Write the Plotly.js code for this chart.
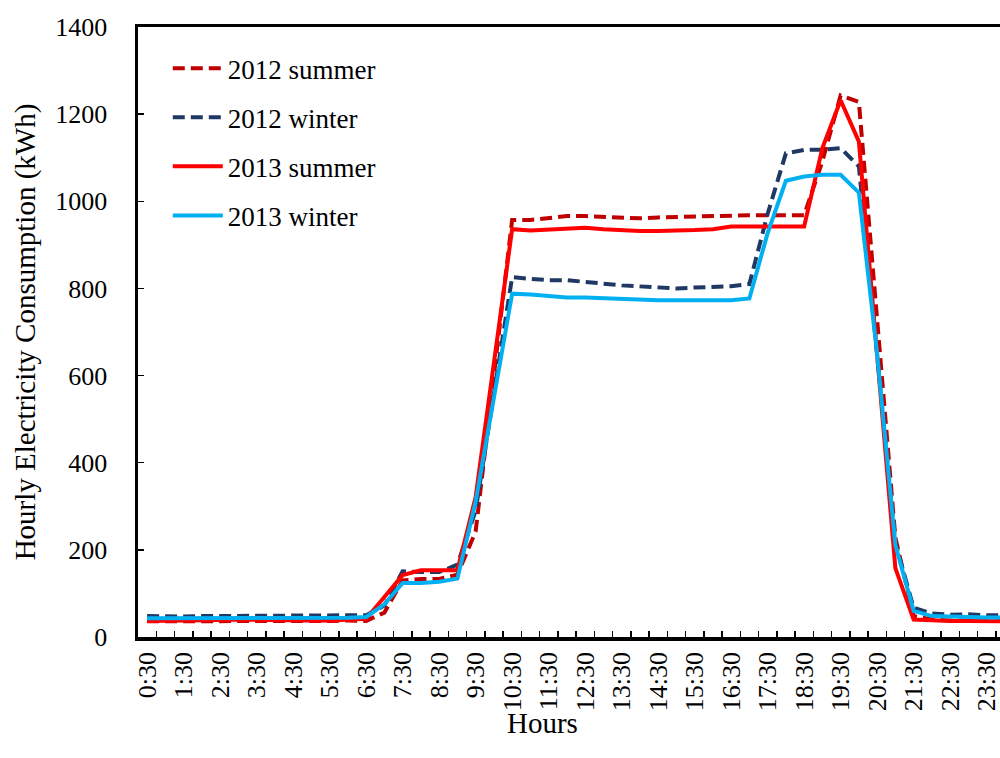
<!DOCTYPE html>
<html>
<head>
<meta charset="utf-8">
<script src="https://cdn.plot.ly/plotly-3.0.1.min.js"></script>
<style>
html, body { margin: 0; padding: 0; overflow: hidden; background: #ffffff; }
#chart { width: 1031px; height: 758px; }
</style>
</head>
<body>
<div id="chart"></div>
<script>
// Half-hour categories (48)
const times = ["0:30","1:00","1:30","2:00","2:30","3:00","3:30","4:00","4:30","5:00","5:30","6:00",
  "6:30","7:00","7:30","8:00","8:30","9:00","9:30","10:00","10:30","11:00","11:30","12:00",
  "12:30","13:00","13:30","14:00","14:30","15:00","15:30","16:00","16:30","17:00","17:30","18:00",
  "18:30","19:00","19:30","20:00","20:30","21:00","21:30","22:00","22:30","23:00","23:30","24:00"];

// Tick labels shown (every other category)
const tickLabels = ["0:30","","1:30","","2:30","","3:30","","4:30","","5:30","",
  "6:30","","7:30","","8:30","","9:30","","10:30","","11:30","",
  "12:30","","13:30","","14:30","","15:30","","16:30","","17:30","",
  "18:30","","19:30","","20:30","","21:30","","22:30","","23:30",""];

const summer2012 = [36,36,35,36,37,36,36,36,37,37,37,38,
  37,56,130,133,133,143,242,600,957,957,961,966,
  966,964,961,961,963,964,966,968,969,968,968,968,
  968,1092,1243,1228,720,228,48,40,38,38,37,37];

const winter2012 = [48,47,47,48,48,48,48,48,48,48,48,48,
  50,72,151,149,149,166,290,558,826,822,819,819,
  816,811,807,804,801,800,802,804,805,810,971,1110,
  1118,1118,1122,1080,640,215,67,54,51,52,50,50];

const summer2013 = [37,37,37,38,39,40,39,38,38,38,38,39,
  42,92,142,153,153,153,321,628,936,933,935,936,
  939,936,933,932,932,932,934,936,942,942,942,942,
  942,1122,1232,1137,640,158,40,38,37,37,36,36];

const winter2013 = [43,43,43,43,43,43,43,43,43,43,44,44,
  46,75,124,124,127,134,310,550,788,786,783,779,
  779,777,775,773,773,773,773,773,773,777,927,1047,
  1057,1061,1061,1020,650,211,60,48,46,46,45,45];

const seriesNames = ["2012 summer","2012 winter","2013 summer","2013 winter"];
const FONT = '"Liberation Serif", "Times New Roman", serif';

const traces = [
  {x: times, y: summer2012, name: seriesNames[0], legendgroup: "a", type: "scatter", mode: "lines",
   line: {color: "#C00000", width: 4, dash: "12px,6px"}},
  {x: times, y: winter2012, name: seriesNames[1], legendgroup: "b", type: "scatter", mode: "lines",
   line: {color: "#1F3864", width: 4, dash: "12px,6px"}},
  {x: times, y: summer2013, name: seriesNames[2], legendgroup: "c", type: "scatter", mode: "lines",
   line: {color: "#FF0000", width: 4}},
  {x: times, y: winter2013, name: seriesNames[3], legendgroup: "d", type: "scatter", mode: "lines",
   line: {color: "#00B0F0", width: 4}}
];

const layout = {
  width: 1031, height: 758, autosize: false,
  margin: {l: 138, r: 17, t: 27, b: 121, pad: 0},
  paper_bgcolor: "#ffffff", plot_bgcolor: "#ffffff",
  font: {family: FONT, color: "#000000", size: 26},
  showlegend: true,
  legend: {
    x: 0.034, y: 0.972, xanchor: "left", yanchor: "top",
    bgcolor: "rgba(0,0,0,0)", borderwidth: 0,
    font: {family: FONT, size: 27, color: "#000000"},
    itemwidth: 50, tracegroupgap: 11, traceorder: "grouped"
  },
  xaxis: {
    type: "category",
    range: [-0.5, 47.5],
    tickmode: "array", tickvals: times, ticktext: tickLabels,
    tickson: "boundaries",
    ticks: "inside", ticklen: 6, tickwidth: 1.5, tickcolor: "#000000",
    tickangle: -90,
    ticklabelstandoff: 1,
    tickfont: {family: FONT, size: 26, color: "#000000"},
    showline: true, linewidth: 3.5, linecolor: "#000000", mirror: true,
    showgrid: false, zeroline: false
  },
  yaxis: {
    range: [0, 1400], dtick: 200, tick0: 0,
    ticks: "inside", ticklen: 6, tickwidth: 1.5, tickcolor: "#000000",
    tickfont: {family: FONT, size: 26, color: "#000000"},
    ticklabelstandoff: 22,
    showline: true, linewidth: 3.5, linecolor: "#000000", mirror: true,
    showgrid: false, zeroline: false,
    title: {text: "Hourly Electricity Consumption (kWh)", font: {family: FONT, size: 29, color: "#000000"}, standoff: 12}
  },
  annotations: [
    {text: "Hours", xref: "paper", yref: "paper", x: 0.4618, y: -0.141,
     xanchor: "center", yanchor: "middle", showarrow: false,
     font: {family: FONT, size: 29, color: "#000000"}}
  ]
};

Plotly.newPlot("chart", traces, layout, {displayModeBar: false, staticPlot: true});
</script>
</body>
</html>
